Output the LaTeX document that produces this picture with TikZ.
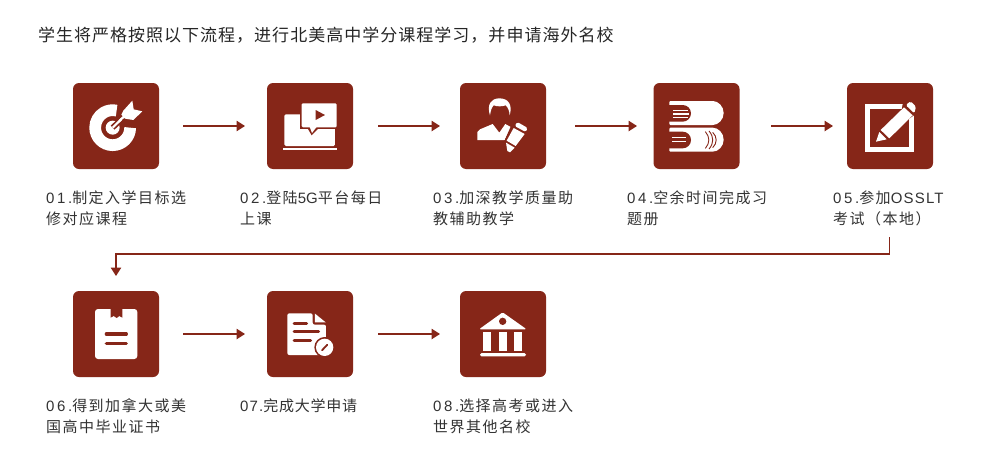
\documentclass[tikz,border=0pt]{standalone}
\usepackage{fontspec}
\usetikzlibrary{arrows.meta}
\newfontfamily\cjklabel[LetterSpace=10]{Noto Sans CJK SC}
\newfontfamily\cjktight[LetterSpace=5]{Noto Sans CJK SC}
\newfontfamily\latlabel[LetterSpace=18]{Liberation Sans}
\newfontfamily\latword[LetterSpace=8]{Liberation Sans}
\newfontfamily\latplain{Liberation Sans}
\newfontfamily\cjktitle[LetterSpace=6]{Noto Sans CJK SC}
\newcommand{\la}[1]{{\latlabel #1}}
\newcommand{\lw}[1]{{\latword #1}}
\newcommand{\lp}[1]{{\latplain #1}}
\definecolor{brick}{HTML}{862618}
\definecolor{inkgrey}{HTML}{333333}
\tikzset{
  stepbox/.style={draw=none,fill=brick,rounded corners=6pt,minimum width=86pt,minimum height=86pt,inner sep=0pt,outer sep=0pt},
  steplabel/.style={anchor=west,align=left,inner sep=0pt,outer sep=0pt,text=inkgrey,font=\fontsize{15}{21}\selectfont\cjklabel},
  titletext/.style={anchor=west,inner sep=0pt,outer sep=0pt,text=black!85,font=\fontsize{17}{20}\selectfont\cjktitle},
  flow/.style={draw=brick,line width=1.2pt,-{Triangle[length=8.5pt,width=10.5pt]}},
  ico/.style={fill=white,draw=none},
  cut/.style={fill=brick,draw=none},
  zoomed/.style={x=0.33333pt,y=0.33333pt,yscale=-1}
}
\begin{document}
\begin{tikzpicture}[x=1pt,y=-1pt]
\useasboundingbox[fill=white] (0,0) rectangle (991,466);
\node[titletext] (title) at (38,35) {学生将严格按照以下流程，进行北美高中学分课程学习，并申请海外名校};
% boxes
\node[stepbox] (s1) at (116,126) {};
\node[stepbox] (s2) at (310,126) {};
\node[stepbox] (s3) at (503,126) {};
\node[stepbox] (s4) at (696.5,126) {};
\node[stepbox] (s5) at (890,126) {};
\node[stepbox] (s6) at (116,334) {};
\node[stepbox] (s7) at (310,334) {};
\node[stepbox] (s8) at (503,334) {};
% labels
\node[steplabel] (l1) at (46,208.5) {\la{01.}制定入学目标选\\修对应课程};
\node[steplabel] (l2) at (240,208.5) {\la{02.}登陆\lp{5G}平台每日\\上课};
\node[steplabel] (l3) at (433,208.5) {\la{03.}加深教学质量助\\教辅助教学};
\node[steplabel] (l4) at (627,208.5) {\la{04.}空余时间完成习\\题册};
\node[steplabel] (l5) at (833,208.5) {\la{05.}参加\lw{OSSLT}\\考试（本地）};
\node[steplabel] (l6) at (46,416.5) {\la{06.}得到加拿大或美\\国高中毕业证书};
\node[steplabel] (l7) at (240,406) {\lw{07.}{\cjktight 完成大学申请}};
\node[steplabel] (l8) at (433,416.5) {\la{08.}选择高考或进入\\世界其他名校};
% arrows
\draw[flow,shorten <=24pt,shorten >=22pt] (s1.east) -- (s2.west);
\draw[flow,shorten <=25pt,shorten >=20pt] (s2.east) -- (s3.west);
\draw[flow,shorten <=29pt,shorten >=16.5pt] (s3.east) -- (s4.west);
\draw[flow,shorten <=31.5pt,shorten >=14pt] (s4.east) -- (s5.west);
\draw[flow,shorten <=24pt,shorten >=22pt] (s6.east) -- (s7.west);
\draw[flow,shorten <=25pt,shorten >=20pt] (s7.east) -- (s8.west);
\coordinate (c5) at (889.5,237);
\coordinate (bend) at (116,254);
\draw[flow,shorten >=15pt] (c5) |- (bend) -- (s6.north);
% icon 1: target (crop origin 80,90)
\begin{scope}[shift={(80,90)},zoomed]
  \draw[white,line width=11.7pt] (150.5,113) arc[start angle=0,end angle=283,radius=52.5];
  \fill[ico] (98,113) circle (21);
  \draw[brick,line width=5.5pt] (98,113) -- (150,62);
  \draw[white,line width=2.2pt] (98,113) -- (146,66);
  \fill[cut] (120,62) -- (152,22) -- (200,60) -- (162,100) -- (128,96) -- cycle;
  \fill[ico] (130,62) -- (157,32) -- (161,58) -- (187,64) -- (160,90) -- (135,86) -- (124,74) -- cycle;
  \draw[white,line width=2.2pt] (118,93) -- (146,66);
\end{scope}
% icon 2: video
\begin{scope}[shift={(60,70)},zoomed]
  \fill[ico,rounded corners=1.5pt] (673,133) rectangle (825,228);
  \fill[ico] (668,234) rectangle (830,239);
  \fill[cut] (719,94) rectangle (836,178);
  \fill[cut] (740,170) -- (755,196) -- (780,170) -- cycle;
  \fill[ico,rounded corners=1.2pt] (725,100) rectangle (830,172);
  \fill[ico] (748,168) -- (756,189) -- (772,168) -- cycle;
  \fill[cut] (767,120) -- (795,135) -- (767,150) -- cycle;
\end{scope}
% icon 3: teacher (crop origin 470,90)
\begin{scope}[shift={(470,90)},zoomed]
  \fill[ico] (60,76) .. controls (50,45) and (62,25) .. (88,25) .. controls (116,25) and (128,45) .. (119,76) .. controls (118,62) and (114,52) .. (107,46) .. controls (96,50) and (82,50) .. (71,46) .. controls (65,52) and (62,62) .. (60,76) -- cycle;
  \fill[ico] (22,150) -- (22,126) -- (30,118) -- (68,102) -- (88,128) -- (106,102) -- (124,112) -- (104,150) -- cycle;
  \fill[cut] (133,85) -- (185,115) -- (145,195) -- (100,160) -- cycle;
  \fill[ico,rounded corners=1.5pt] (142,96) -- (173,114) -- (167,126) -- (134,108) -- cycle;
  \fill[ico] (131,114) -- (164,132) -- (137,168) -- (110,152) -- cycle;
  \fill[ico] (108,158) -- (134,173) -- (120,187) -- (112,183) -- cycle;
\end{scope}
% icon 4: books (crop origin 660,90)
\begin{scope}[shift={(660,90)},zoomed]
  \fill[ico,rounded corners=1pt] (28,33) -- (155,33) arc[start angle=-90,end angle=90,radius=36] -- (28,105) -- cycle;
  \fill[cut] (24,45) -- (68,45) arc[start angle=-90,end angle=90,radius=25] -- (24,95) -- cycle;
  \fill[ico] (40,60) rectangle (85,64);
  \fill[ico] (40,70) rectangle (88,74);
  \fill[ico] (40,80) rectangle (85,84);
  \fill[ico,rounded corners=1pt] (28,113) -- (155,113) arc[start angle=-90,end angle=90,radius=36] -- (28,185) -- cycle;
  \fill[cut] (24,125) -- (68,125) arc[start angle=-90,end angle=90,radius=25] -- (24,175) -- cycle;
  \fill[ico] (36,140) rectangle (78,144);
  \fill[ico] (36,152) rectangle (78,156);
  \draw[brick,line width=0.9pt] (136,125) .. controls (150,140) and (150,160) .. (136,175);
  \draw[brick,line width=0.9pt] (147,123) .. controls (162,140) and (162,160) .. (147,177);
  \draw[brick,line width=0.9pt] (158,127) .. controls (172,140) and (172,160) .. (158,173);
\end{scope}
% icon 5: pencil on frame
\begin{scope}[shift={(760,70)},zoomed]
  \fill[ico] (316,103) rectangle (462,245);
  \fill[cut] (330,118) rectangle (447,232);
  \fill[cut] (430,90) -- (475,90) -- (478,125) -- (462,136) -- (447,146) -- (425,120) -- cycle;
  \fill[ico] (348,215) -- (358,186) -- (380,208) -- cycle;
  \fill[ico] (362,180) -- (432,112) -- (458,136) -- (388,205) -- cycle;
  \fill[ico,rounded corners=1.5pt] (437,105) -- (452,94) -- (468,110) -- (463,130) -- cycle;
\end{scope}
% icon 6: notebook
\begin{scope}[shift={(60,250)},zoomed]
  \fill[ico,rounded corners=3pt] (105,177) rectangle (232,327);
  \fill[cut] (152,176) -- (187,176) -- (187,203) -- (178,198) -- (170,204) -- (161,198) -- (152,203) -- cycle;
  \draw[brick,line width=3.3pt,line cap=round] (139,252) -- (199,252);
  \draw[brick,line width=3.3pt,line cap=round] (139,281) -- (199,281);
\end{scope}
% icon 7: document
\begin{scope}[shift={(60,250)},zoomed]
  \fill[ico,rounded corners=2pt] (682,190) -- (758,190) -- (758,224) -- (798,224) -- (798,315) -- (682,315) -- cycle;
  \fill[ico] (765,191) -- (797,217) -- (765,217) -- cycle;
  \draw[brick,line width=2.7pt,line cap=round] (702,220) -- (740,220);
  \draw[brick,line width=2.7pt,line cap=round] (702,245) -- (776,245);
  \draw[brick,line width=2.7pt,line cap=round] (702,272) -- (752,272);
  \fill[cut] (794,292) circle (31);
  \fill[ico] (794,292) circle (26);
  \draw[brick,line width=1.8pt,line cap=round] (786,301) -- (802,284);
\end{scope}
% icon 8: bank
\begin{scope}[shift={(370,280)},zoomed]
  \fill[ico,rounded corners=1.5pt] (327,148) -- (398,97) -- (470,148) -- cycle;
  \fill[cut] (398,124) circle (11);
  \fill[ico] (340,155) rectangle (362,212);
  \fill[ico] (387,155) rectangle (410,212);
  \fill[ico] (433,155) rectangle (456,212);
  \fill[ico,rounded corners=1.5pt] (330,219) rectangle (468,229);
\end{scope}
\end{tikzpicture}
\end{document}
